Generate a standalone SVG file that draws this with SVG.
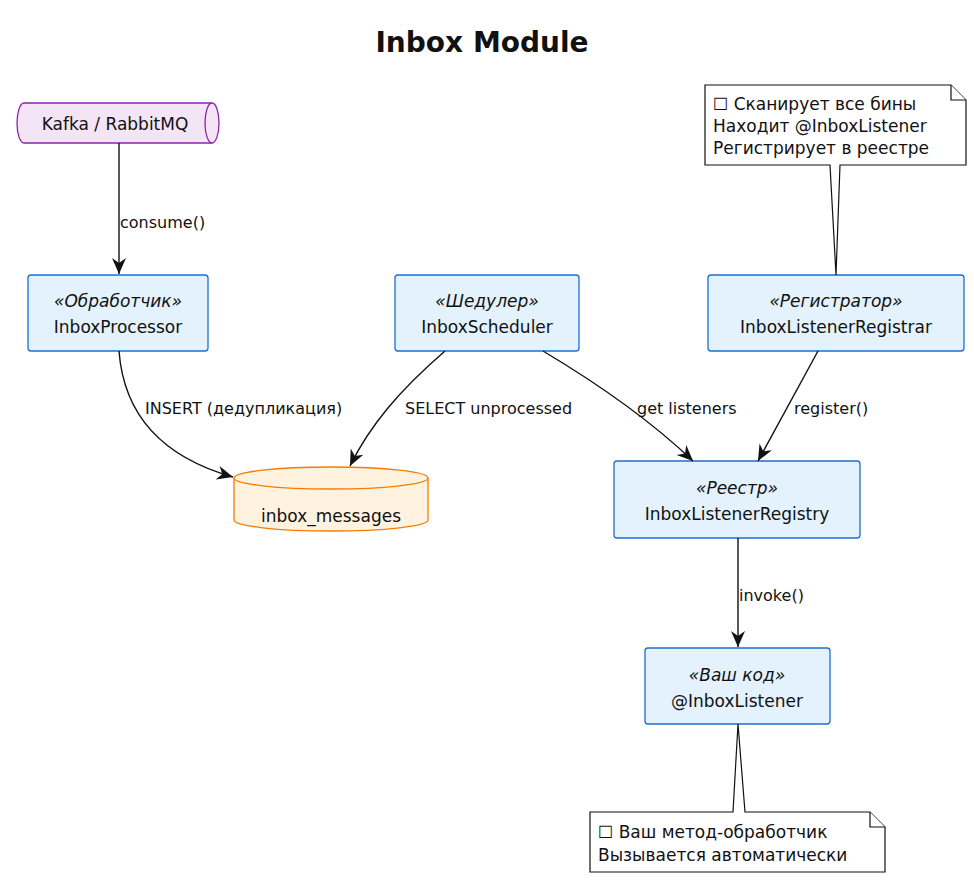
<svg xmlns="http://www.w3.org/2000/svg" width="974" height="880" viewBox="0 0 974 880">
<style>
text{font-family:"DejaVu Sans",Verdana,sans-serif;font-size:17px;fill:#111}
.st{font-style:italic}
.box{fill:#e3f2fd;stroke:#1e6fd0;stroke-width:1.3}
.note{fill:#fff;stroke:#111;stroke-width:1.2}
.c{fill:none;stroke:#111;stroke-width:1.4}
.l{font-size:16px}
</style>
<defs>
<marker id="a" viewBox="0 0 20 20" refX="18" refY="10" markerWidth="20" markerHeight="20" markerUnits="userSpaceOnUse" orient="auto">
<path d="M2,3 L18,10 L2,17 L7,10 Z" fill="#111"/>
</marker>
</defs>
<rect width="974" height="880" fill="#fff"/>
<text x="482" y="52" text-anchor="middle" style="font-size:28px;font-weight:bold">Inbox Module</text>
<g id="kafka">
<path d="M24,103 H212 A7,20 0 0 1 212,143 H24 A7,20 0 0 1 24,103 Z" fill="#f3e5f5" stroke="#8e24aa" stroke-width="1.3"/>
<path d="M212,103 A7,20 0 0 0 212,143" fill="none" stroke="#8e24aa" stroke-width="1.3"/>
<text x="115" y="130" text-anchor="middle">Kafka / RabbitMQ</text>
</g>
<g id="processor">
<rect class="box" x="28" y="275" width="180" height="76" rx="3"/>
<text class="st" x="118" y="307" text-anchor="middle">«Обработчик»</text>
<text x="118" y="333" text-anchor="middle">InboxProcessor</text>
</g>
<g id="scheduler">
<rect class="box" x="395" y="275" width="184" height="76" rx="3"/>
<text class="st" x="487" y="307" text-anchor="middle">«Шедулер»</text>
<text x="487" y="333" text-anchor="middle">InboxScheduler</text>
</g>
<g id="registrar">
<rect class="box" x="708" y="275" width="256" height="76" rx="3"/>
<text class="st" x="836" y="307" text-anchor="middle">«Регистратор»</text>
<text x="836" y="333" text-anchor="middle">InboxListenerRegistrar</text>
</g>
<g id="registry">
<rect class="box" x="614" y="461" width="246" height="77" rx="3"/>
<text class="st" x="737" y="494" text-anchor="middle">«Реестр»</text>
<text x="737" y="520" text-anchor="middle">InboxListenerRegistry</text>
</g>
<g id="listener">
<rect class="box" x="645" y="648" width="185" height="76" rx="3"/>
<text class="st" x="737" y="681" text-anchor="middle">«Ваш код»</text>
<text x="737" y="707" text-anchor="middle">@InboxListener</text>
</g>
<g id="db">
<path d="M234,478 V520 A97,11 0 0 0 428,520 V478 A97,11 0 0 0 234,478 Z" fill="#fff3e0" stroke="#f57c00" stroke-width="1.3"/>
<path d="M234,478 A97,11 0 0 0 428,478" fill="none" stroke="#f57c00" stroke-width="1.3"/>
<text x="331" y="522" text-anchor="middle">inbox_messages</text>
</g>
<g id="note1">
<path class="note" d="M705,85 H951 L966,100 V165 H840 L836,275 L830,165 H705 Z"/>
<path class="note" d="M951,85 V100 H966" fill="none"/>
<text x="713" y="110">☐ Сканирует все бины</text>
<text x="713" y="132">Находит @InboxListener</text>
<text x="713" y="154">Регистрирует в реестре</text>
</g>
<g id="note2">
<path class="note" d="M590,812 H733 L738,724 L745,812 H870 L885,827 V872 H590 Z"/>
<path class="note" d="M870,812 V827 H885" fill="none"/>
<text x="598" y="838">☐ Ваш метод-обработчик</text>
<text x="598" y="861">Вызывается автоматически</text>
</g>
<g id="connectors">
<path class="c" d="M119,143 V274" marker-end="url(#a)"/>
<path class="c" d="M119,351 C125,430 180,462 233,477" marker-end="url(#a)"/>
<path class="c" d="M445,351 C400,390 370,425 350,466" marker-end="url(#a)"/>
<path class="c" d="M543,351 C600,385 650,420 693,461" marker-end="url(#a)"/>
<path class="c" d="M818,351 L758,461" marker-end="url(#a)"/>
<path class="c" d="M738,538 V647" marker-end="url(#a)"/>
<text class="l" x="120" y="228">consume()</text>
<text class="l" x="145" y="414">INSERT (дедупликация)</text>
<text class="l" x="405" y="414">SELECT unprocessed</text>
<text class="l" x="637" y="414">get listeners</text>
<text class="l" x="794" y="414">register()</text>
<text class="l" x="739" y="601">invoke()</text>
</g>
</svg>
